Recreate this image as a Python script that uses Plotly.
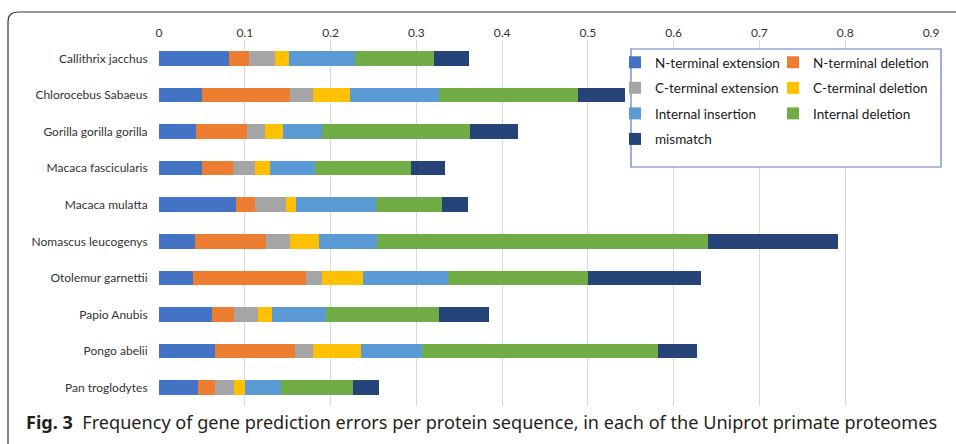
import plotly.graph_objects as go

# Species (top to bottom) and per-protein error frequencies by error type
species = [
    "Callithrix jacchus",
    "Chlorocebus Sabaeus",
    "Gorilla gorilla gorilla",
    "Macaca fascicularis",
    "Macaca mulatta",
    "Nomascus leucogenys",
    "Otolemur garnettii",
    "Papio Anubis",
    "Pongo abelii",
    "Pan troglodytes",
]

n_terminal_extension = [0.082, 0.050, 0.043, 0.050, 0.090, 0.042, 0.040, 0.062, 0.065, 0.045]
n_terminal_deletion  = [0.023, 0.103, 0.060, 0.036, 0.022, 0.083, 0.131, 0.025, 0.094, 0.020]
c_terminal_extension = [0.030, 0.027, 0.020, 0.026, 0.036, 0.028, 0.019, 0.028, 0.020, 0.023]
c_terminal_deletion  = [0.016, 0.043, 0.022, 0.017, 0.012, 0.033, 0.048, 0.017, 0.056, 0.012]
internal_insertion   = [0.077, 0.103, 0.045, 0.053, 0.093, 0.068, 0.099, 0.063, 0.072, 0.042]
internal_deletion    = [0.093, 0.163, 0.173, 0.112, 0.077, 0.386, 0.163, 0.131, 0.275, 0.084]
mismatch             = [0.040, 0.054, 0.055, 0.039, 0.030, 0.151, 0.132, 0.059, 0.045, 0.031]

tick_values = [0, 0.1, 0.2, 0.3, 0.4, 0.5, 0.6, 0.7, 0.8, 0.9]
tick_labels = ["0", "0.1", "0.2", "0.3", "0.4", "0.5", "0.6", "0.7", "0.8", "0.9"]

caption_bold = "Fig. 3"
caption_text = "Frequency of gene prediction errors per protein sequence, in each of the Uniprot primate proteomes"

# (name, values, colour, legend)
series = [
    ("N-terminal extension", n_terminal_extension, "#4472C4", "legend"),
    ("N-terminal deletion", n_terminal_deletion, "#ED7D31", "legend2"),
    ("C-terminal extension", c_terminal_extension, "#A5A5A5", "legend"),
    ("C-terminal deletion", c_terminal_deletion, "#FFC000", "legend2"),
    ("Internal insertion", internal_insertion, "#5B9BD5", "legend"),
    ("Internal deletion", internal_deletion, "#70AD47", "legend2"),
    ("mismatch", mismatch, "#264478", "legend"),
]

# Page geometry (pixels)
WIDTH, HEIGHT = 956, 444
M_L, M_R, M_T, M_B = 159, 25, 40, 38
PW = WIDTH - M_L - M_R
PH = HEIGHT - M_T - M_B


def px_x(px):
    return (px - M_L) / PW


def px_y(py):
    return (HEIGHT - M_B - py) / PH


CHART_FONT = "Lato, Carlito, Calibri, sans-serif"

fig = go.Figure()
for name, vals, color, leg in series:
    fig.add_trace(go.Bar(
        y=species,
        x=vals,
        name=name,
        orientation="h",
        marker=dict(color=color, line=dict(width=0)),
        legend=leg,
        legendgroup=name,
    ))

# Two legend columns sharing one framed box
legend_common = dict(
    bgcolor="rgba(0,0,0,0)",
    borderwidth=0,
    font=dict(family=CHART_FONT, size=13.5, color="#1a1a1a"),
    tracegroupgap=5,
    xanchor="left",
    yanchor="top",
    traceorder="grouped",
)

fig.update_layout(
    width=WIDTH,
    height=HEIGHT,
    margin=dict(l=M_L, r=M_R, t=M_T, b=M_B),
    paper_bgcolor="white",
    plot_bgcolor="white",
    barmode="stack",
    bargap=0.6,
    showlegend=True,
    legend=dict(x=px_x(615), y=px_y(47), **legend_common),
    legend2=dict(x=px_x(773), y=px_y(47), **legend_common),
    xaxis=dict(
        side="top",
        range=[0, 0.9],
        tickvals=tick_values,
        ticktext=tick_labels,
        showgrid=True,
        gridcolor="#d9d9d9",
        gridwidth=1,
        zeroline=False,
        showline=False,
        ticks="",
        automargin=False,
        tickfont=dict(family=CHART_FONT, size=12, color="#333333"),
    ),
    yaxis=dict(
        range=[len(species) - 0.5, -0.5],
        showgrid=False,
        zeroline=False,
        showline=False,
        ticks="outside",
        ticklen=8,
        tickcolor="rgba(0,0,0,0)",
        automargin=False,
        tickfont=dict(family=CHART_FONT, size=12, color="#333333"),
    ),
)

# Figure frame with a rounded top-left corner, kept inside the page
r = 10
frame = (
    f"M {px_x(8)},{px_y(HEIGHT)} L {px_x(8)},{px_y(12 + r)} "
    f"Q {px_x(8)},{px_y(12)} {px_x(8 + r)},{px_y(12)} L {px_x(WIDTH)},{px_y(12)}"
)
fig.add_shape(type="path", path=frame, xref="paper", yref="paper",
              line=dict(color="#333333", width=1.2), layer="above")

# Box around the two legend columns
fig.add_shape(type="rect", xref="paper", yref="paper",
              x0=px_x(631), x1=px_x(941), y0=px_y(167), y1=px_y(49),
              line=dict(color="#5a7cc0", width=1.2), fillcolor="white", layer="above")

# Caption
fig.add_annotation(
    xref="paper", yref="paper",
    x=px_x(24), y=px_y(422),
    xanchor="left", yanchor="middle",
    showarrow=False,
    text=f"<b>{caption_bold}</b>  {caption_text}",
    font=dict(family="Noto Sans, Open Sans, sans-serif", size=18.1, color="#231f20"),
)

fig.write_html("out.html")
